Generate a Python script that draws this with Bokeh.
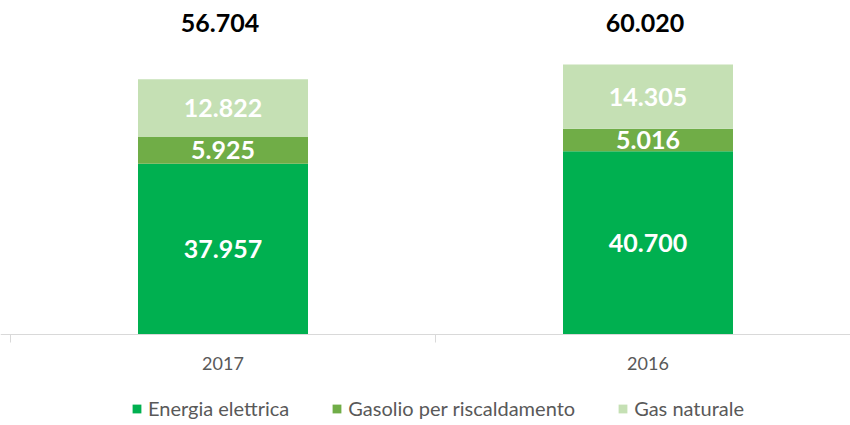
from bokeh.plotting import figure
from bokeh.models import ColumnDataSource, Range1d, Legend, LegendItem, Span
from bokeh.core.properties import value
from bokeh.embed import file_html
from bokeh.resources import INLINE

years = ["2017", "2016"]
energia = [37957, 40700]
gasolio = [5925, 5016]
gas = [12822, 14305]
totals = [56704, 60020]
series = ["Energia elettrica", "Gasolio per riscaldamento", "Gas naturale"]
colors = ["#00B050", "#70AD47", "#C5E0B4"]

FONT = "Lato"
W, H = 850, 420
CAT_PX = 425          # pixels per category
PX_PER_UNIT = 4.5 / 1000  # pixels per data unit
BASE_Y = 334          # baseline pixel row
LEFT = 10             # first category boundary pixel


def fmt(v):
    return f"{v:,}".replace(",", ".")


xs = [i + 0.5 for i in range(len(years))]
bounds = list(range(len(years) + 1))

y_end = BASE_Y / PX_PER_UNIT
y_start = -(H - BASE_Y) / PX_PER_UNIT

p = figure(frame_width=W, frame_height=H, output_backend="svg", toolbar_location=None,
           x_range=Range1d(-LEFT / CAT_PX, (W - LEFT) / CAT_PX),
           y_range=Range1d(y_start, y_end),
           x_axis_location=None, y_axis_location=None,
           min_border=0)
p.grid.visible = False
p.outline_line_color = None

src = ColumnDataSource(dict(x=xs, energia=energia, gasolio=gasolio, gas=gas))
rs = p.vbar_stack(["energia", "gasolio", "gas"], x="x", width=0.4, color=colors, source=src,
                  line_color=None)

# baseline and category boundary ticks
p.add_layout(Span(location=0, dimension="width", line_color="#D9D9D9", line_width=1))
p.segment(x0=bounds, y0=[0] * len(bounds), x1=bounds, y1=[-8 / PX_PER_UNIT] * len(bounds),
          line_color="#D9D9D9", line_width=1)

# category labels
p.text(x=xs, y=[0] * len(xs), text=years, y_offset=29, text_align="center",
       text_baseline="middle", text_color="#595959", text_font=value(FONT),
       text_font_size="18px")

# segment labels
lx, ly, lt = [], [], []
for i in range(len(years)):
    base = 0
    for vals in (energia, gasolio, gas):
        v = vals[i]
        lx.append(xs[i])
        ly.append(base + v / 2)
        lt.append(fmt(v))
        base += v
p.text(x=lx, y=ly, text=lt, text_align="center", text_baseline="middle",
       text_color="white", text_font=value(FONT), text_font_style="bold", text_font_size="25px")

# totals
p.text(x=xs, y=[y_end] * len(xs), text=[fmt(t) for t in totals], y_offset=22, x_offset=-3,
       text_align="center", text_baseline="middle", text_color="black",
       text_font=value(FONT), text_font_style="bold", text_font_size="25px")

legend = Legend(items=[LegendItem(label=s, renderers=[r]) for s, r in zip(series, rs)],
                orientation="horizontal", location=(131, 0))
legend.border_line_color = None
legend.background_fill_alpha = 0
legend.label_text_font = FONT
legend.label_text_font_size = "20px"
legend.label_text_color = "#595959"
legend.glyph_width = 11
legend.glyph_height = 11
legend.spacing = 42
legend.label_standoff = 6
legend.padding = 0
legend.margin = 0
p.add_layout(legend, "center")

open("out.html", "w").write(file_html(p, INLINE))
